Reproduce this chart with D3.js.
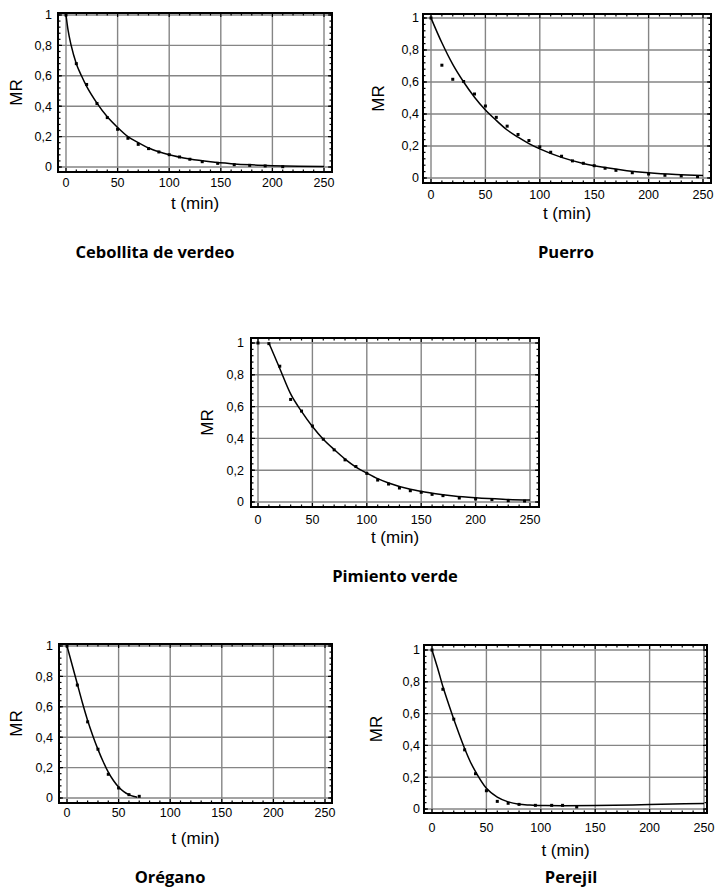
<!DOCTYPE html>
<html><head><meta charset="utf-8">
<script src="https://cdn.jsdelivr.net/npm/d3@7"></script>
<style>body{margin:0;background:#fff}svg{display:block}</style>
</head><body><svg id="c" width="715" height="896"></svg>
<script>
const categories = ["Cebollita de verdeo","Puerro","Pimiento verde","Orégano","Perejil"];
const xTicks = [0,50,100,150,200,250];
const yTicks = [0,0.2,0.4,0.6,0.8,1];
const yTickLabels = ["0","0,2","0,4","0,6","0,8","1"];
const xTitle = "t (min)";
const yTitle = "MR";

// experimental points
const tCebollita  = [0,10,20,30,40,50,60,70,80,90,100,110,120,132,147,163,178,193,210];
const mrCebollita = [1,0.68,0.543,0.418,0.325,0.248,0.189,0.149,0.121,0.099,0.081,0.066,0.051,0.035,0.024,0.015,0.011,0.007,0.002];
const tPuerro  = [0,10,20,30,40,50,60,70,80,90,100,110,120,130,140,150,160,170,185,200,215,230,245];
const mrPuerro = [1,0.705,0.617,0.603,0.525,0.450,0.379,0.324,0.272,0.234,0.195,0.161,0.136,0.107,0.092,0.077,0.061,0.048,0.033,0.025,0.017,0.013,0.008];
const tPimiento  = [0,10,20,30,40,50,60,70,80,90,100,110,120,130,140,150,160,170,185,200,215,230,245];
const mrPimiento = [1,0.996,0.854,0.645,0.572,0.478,0.395,0.328,0.265,0.223,0.180,0.138,0.113,0.088,0.071,0.061,0.048,0.040,0.025,0.019,0.015,0.008,0.006];
const tOregano  = [0,10,20,30,40,50,60,70];
const mrOregano = [1,0.743,0.501,0.321,0.156,0.066,0.022,0.011];
const tPerejil  = [0,10,20,30,40,50,60,70,80,95,110,120,133];
const mrPerejil = [1,0.753,0.565,0.372,0.222,0.115,0.048,0.036,0.029,0.023,0.023,0.023,0.013];

// fitted curves
const fitTCebollita  = [0,2,5,10,15,20,30,40,50,60,70,80,90,100,120,140,160,180,200,225,250];
const fitMRCebollita = [1,0.90,0.80,0.68,0.60,0.53,0.42,0.33,0.26,0.20,0.16,0.125,0.10,0.08,0.052,0.034,0.022,0.014,0.009,0.005,0.003];
const fitTPuerro  = [0,10,20,30,40,50,60,70,80,90,100,120,140,160,180,200,225,250];
const fitMRPuerro = [1,0.845,0.71,0.60,0.505,0.425,0.36,0.30,0.255,0.215,0.182,0.129,0.091,0.065,0.046,0.033,0.022,0.015];
const fitTPimiento  = [10,20,30,40,50,60,70,80,90,100,110,120,140,160,180,200,225,250];
const fitMRPimiento = [1,0.84,0.68,0.57,0.475,0.395,0.33,0.27,0.22,0.182,0.147,0.12,0.08,0.055,0.037,0.026,0.017,0.012];
const fitTOregano  = [0,5,10,15,20,25,30,35,40,45,50,55,60,65,68];
const fitMROregano = [1,0.875,0.75,0.625,0.51,0.41,0.32,0.24,0.17,0.115,0.072,0.042,0.022,0.01,0.005];
const fitTPerejil  = [0,5,10,15,20,25,30,35,40,50,60,70,80,90,100,120,150,200,250];
const fitMRPerejil = [1,0.89,0.77,0.665,0.565,0.47,0.38,0.30,0.235,0.13,0.075,0.045,0.03,0.025,0.022,0.021,0.022,0.028,0.035];

const series = [
  {t:tCebollita, mr:mrCebollita, ft:fitTCebollita, fm:fitMRCebollita},
  {t:tPuerro, mr:mrPuerro, ft:fitTPuerro, fm:fitMRPuerro},
  {t:tPimiento, mr:mrPimiento, ft:fitTPimiento, fm:fitMRPimiento},
  {t:tOregano, mr:mrOregano, ft:fitTOregano, fm:fitMROregano},
  {t:tPerejil, mr:mrPerejil, ft:fitTPerejil, fm:fitMRPerejil}
];

// layout (pixels)
const layout = [
  {L:58,R:332,T:13,B:172, x0:66,x1:324, y0:167,y1:15, lx:183, tx:209, my:16, ylOff:6, title:[155,258]},
  {L:423,R:711,T:14,B:183, x0:431,x1:703, y0:178,y1:18, lx:195, tx:219, my:378, ylOff:4, title:[566,258]},
  {L:251,R:539,T:338,B:507, x0:258,x1:530, y0:502,y1:343, lx:520, tx:543, my:207, ylOff:7, title:[395,582]},
  {L:59,R:332,T:644,B:803, x0:67,x1:325, y0:798,y1:646, lx:813, tx:844, my:16, ylOff:6, title:[170,883]},
  {L:424,R:707,T:645,B:813, x0:432,x1:704, y0:809,y1:650, lx:828, tx:856, my:376, ylOff:4, title:[571,883]}
];

const svg = d3.select("#c");
const axisFont = "Arial, 'Liberation Sans', sans-serif";

layout.forEach((p, i) => {
  const s = series[i];
  const x = d3.scaleLinear().domain([0,250]).range([p.x0, p.x1]);
  const y = d3.scaleLinear().domain([0,1]).range([p.y0, p.y1]);
  const g = svg.append("g");
  const clipId = "clip"+i;
  svg.append("clipPath").attr("id", clipId).append("rect")
    .attr("x", p.L).attr("y", p.T).attr("width", p.R-p.L).attr("height", p.B-p.T);

  // grid
  g.selectAll(".gx").data(xTicks).enter().append("line")
    .attr("x1", d=>x(d)).attr("x2", d=>x(d)).attr("y1", p.T).attr("y2", p.B)
    .attr("stroke", "#858585").attr("stroke-width", 1.4);
  g.selectAll(".gy").data(yTicks).enter().append("line")
    .attr("y1", d=>y(d)).attr("y2", d=>y(d)).attr("x1", p.L).attr("x2", p.R)
    .attr("stroke", "#858585").attr("stroke-width", 1.4);

  // minor ticks
  const xMinor = d3.range(0, 251, 10);
  const yMinor = d3.range(0, 1.001, 0.04);
  const tk = g.append("g").attr("stroke", "#000").attr("stroke-width", 1.2);
  xMinor.forEach(v => {
    const len = (v % 50 === 0) ? 4 : 2.5;
    tk.append("line").attr("x1", x(v)).attr("x2", x(v)).attr("y1", p.T).attr("y2", p.T+len);
    tk.append("line").attr("x1", x(v)).attr("x2", x(v)).attr("y1", p.B).attr("y2", p.B-len);
  });
  yMinor.forEach(v => {
    const len = 2.5;
    tk.append("line").attr("y1", y(v)).attr("y2", y(v)).attr("x1", p.L).attr("x2", p.L+len);
    tk.append("line").attr("y1", y(v)).attr("y2", y(v)).attr("x1", p.R).attr("x2", p.R-len);
  });
  yTicks.forEach(v => {
    tk.append("line").attr("y1", y(v)).attr("y2", y(v)).attr("x1", p.L).attr("x2", p.L+4);
    tk.append("line").attr("y1", y(v)).attr("y2", y(v)).attr("x1", p.R).attr("x2", p.R-4);
  });

  // frame
  g.append("rect").attr("x", p.L).attr("y", p.T).attr("width", p.R-p.L).attr("height", p.B-p.T)
    .attr("fill", "none").attr("stroke", "#000").attr("stroke-width", 2);

  // fitted curve
  const fit = s.ft.map((t,k)=>[t, s.fm[k]]);
  g.append("path").datum(fit)
    .attr("clip-path", `url(#${clipId})`)
    .attr("d", d3.line().x(d=>x(d[0])).y(d=>y(d[1])).curve(d3.curveMonotoneX))
    .attr("fill", "none").attr("stroke", "#000").attr("stroke-width", 1.5);

  // points
  const pts = s.t.map((t,k)=>[t, s.mr[k]]);
  g.selectAll(".pt").data(pts).enter().append("rect")
    .attr("x", d=>x(d[0])-1.5).attr("y", d=>y(d[1])-1.5)
    .attr("width", 3).attr("height", 3).attr("fill", "#000");

  // tick labels
  g.selectAll(".xl").data(xTicks).enter().append("text")
    .attr("x", d=>x(d)).attr("y", p.lx).attr("dy", "0.35em")
    .attr("text-anchor", "middle").attr("font-family", axisFont).attr("font-size", 12.5)
    .text(d=>d);
  g.selectAll(".yl").data(yTicks).enter().append("text")
    .attr("x", p.L - p.ylOff).attr("y", d=>y(d)).attr("dy", "0.35em")
    .attr("text-anchor", "end").attr("font-family", axisFont).attr("font-size", 12.5)
    .text((d,k)=>yTickLabels[k]);

  // axis titles
  g.append("text").attr("x", (p.L+p.R)/2).attr("y", p.tx)
    .attr("text-anchor", "middle").attr("font-family", axisFont).attr("font-size", 17)
    .text(xTitle);
  g.append("text").attr("transform", `translate(${p.my},${(p.T+p.B)/2}) rotate(-90)`)
    .attr("dy", "0.35em").attr("text-anchor", "middle").attr("font-family", axisFont).attr("font-size", 17)
    .text(yTitle);

  // panel title
  svg.append("text").attr("x", p.title[0]).attr("y", p.title[1])
    .attr("text-anchor", "middle").attr("font-family", "'Open Sans', 'Noto Sans', sans-serif")
    .attr("font-weight", 700).attr("font-size", 16.5)
    .text(categories[i]);
});
</script></body></html>
